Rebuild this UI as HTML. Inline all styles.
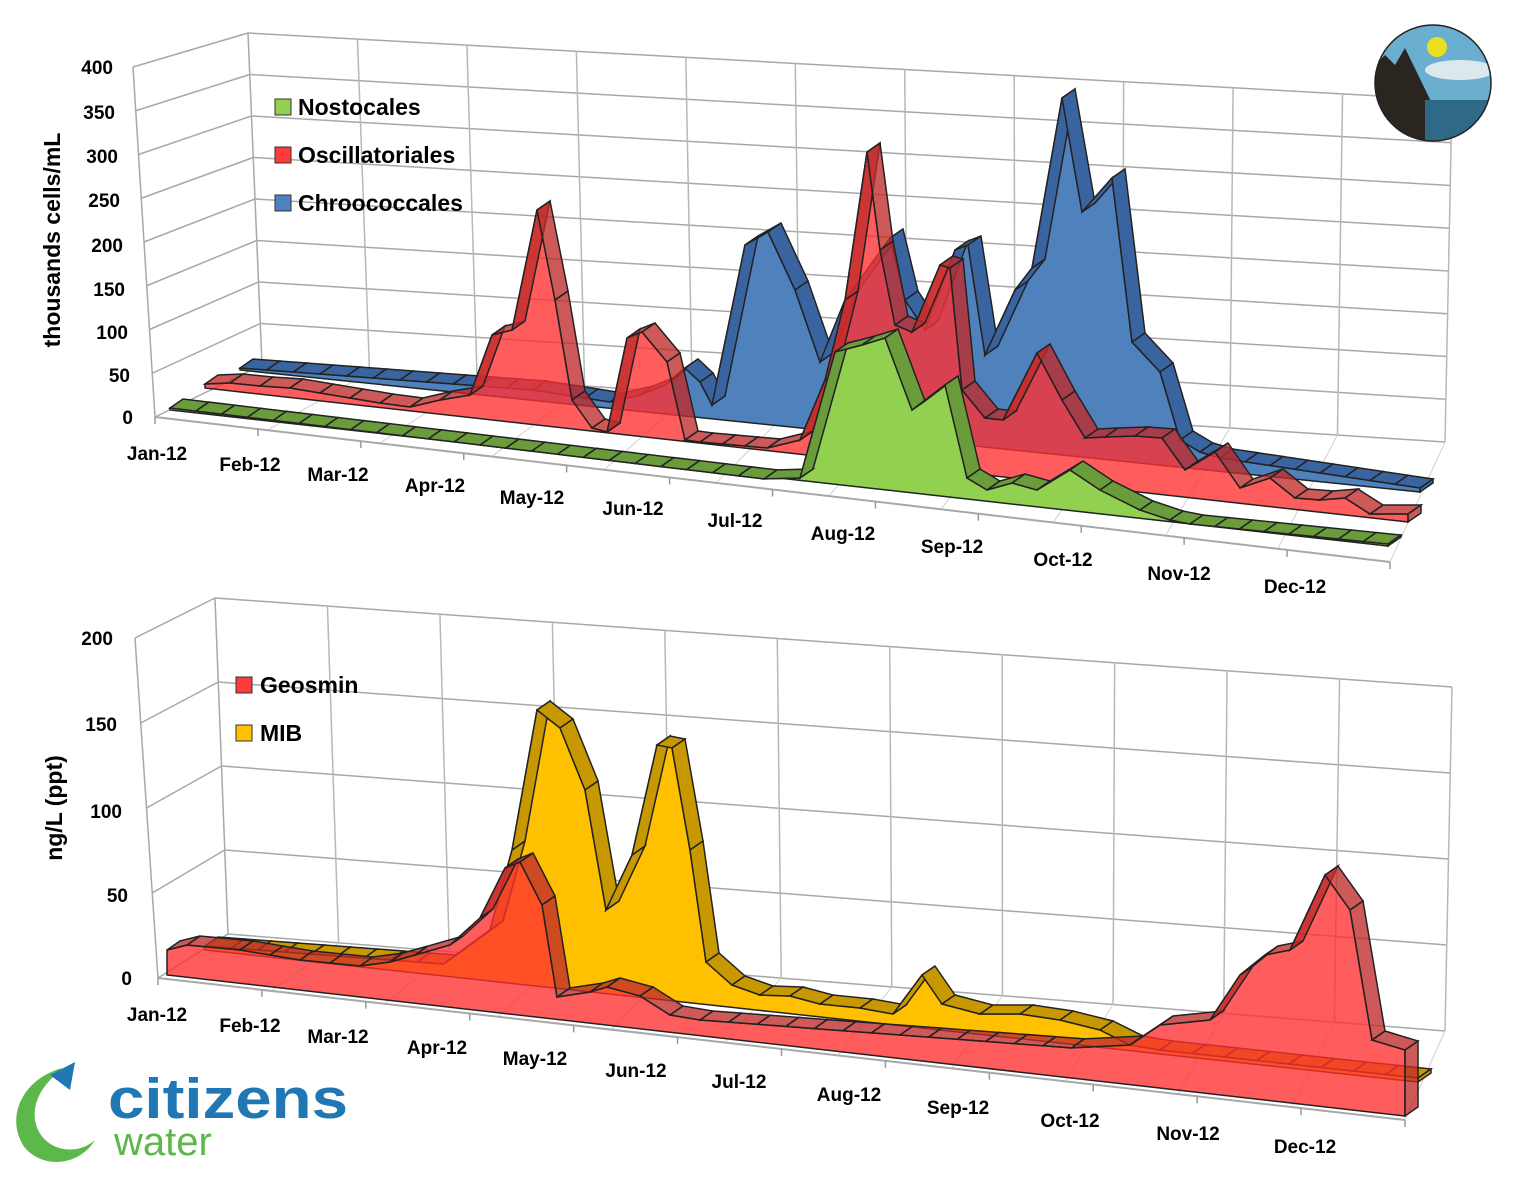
<!DOCTYPE html>
<html><head><meta charset="utf-8"><style>
body{margin:0;background:#fff;}
svg text{font-family:"Liberation Sans",sans-serif;font-weight:bold;}
</style></head><body>
<svg id="s" width="1513" height="1177" xmlns="http://www.w3.org/2000/svg">
<g id="top"></g>
<g id="bot"></g>
<g font-size="19" fill="#000" text-anchor="end">
<text x="113" y="74">400</text><text x="115" y="119">350</text><text x="118" y="163">300</text><text x="120" y="207">250</text><text x="123" y="252">200</text><text x="125" y="296">150</text><text x="128" y="339">100</text><text x="130" y="382">50</text><text x="133" y="424">0</text>
</g>
<text transform="translate(60,240) rotate(-90)" font-size="23" text-anchor="middle">thousands cells/mL</text>
<g font-size="19" text-anchor="middle">
<text x="157" y="460">Jan-12</text><text x="250" y="471">Feb-12</text><text x="338" y="481">Mar-12</text><text x="435" y="492">Apr-12</text><text x="532" y="504">May-12</text><text x="633" y="515">Jun-12</text><text x="735" y="527">Jul-12</text><text x="843" y="540">Aug-12</text><text x="952" y="553">Sep-12</text><text x="1063" y="566">Oct-12</text><text x="1179" y="580">Nov-12</text><text x="1295" y="593">Dec-12</text>
</g>
<g font-size="23">
<rect x="275" y="99" width="16" height="16" fill="#92d050" stroke="#333"/><text x="298" y="115">Nostocales</text>
<rect x="275" y="147" width="16" height="16" fill="#ff3b3b" stroke="#333"/><text x="298" y="163">Oscillatoriales</text>
<rect x="275" y="195" width="16" height="16" fill="#4f81bd" stroke="#333"/><text x="298" y="211">Chroococcales</text>
</g>
<g font-size="19" text-anchor="end">
<text x="113" y="645">200</text><text x="117" y="731">150</text><text x="122" y="818">100</text><text x="128" y="902">50</text><text x="132" y="985">0</text>
</g>
<text transform="translate(62,808) rotate(-90)" font-size="23" text-anchor="middle">ng/L (ppt)</text>
<g font-size="19" text-anchor="middle">
<text x="157" y="1021">Jan-12</text><text x="250" y="1032">Feb-12</text><text x="338" y="1043">Mar-12</text><text x="437" y="1054">Apr-12</text><text x="535" y="1065">May-12</text><text x="636" y="1077">Jun-12</text><text x="739" y="1088">Jul-12</text><text x="849" y="1101">Aug-12</text><text x="958" y="1114">Sep-12</text><text x="1070" y="1127">Oct-12</text><text x="1188" y="1140">Nov-12</text><text x="1305" y="1153">Dec-12</text>
</g>
<g font-size="23">
<rect x="236" y="677" width="16" height="16" fill="#ff3b3b" stroke="#333"/><text x="260" y="693">Geosmin</text>
<rect x="236" y="725" width="16" height="16" fill="#ffc000" stroke="#333"/><text x="260" y="741">MIB</text>
</g>
<defs><clipPath id="cc"><circle cx="1433" cy="83" r="58"/></clipPath></defs>
<g clip-path="url(#cc)">
<rect x="1370" y="20" width="130" height="130" fill="#6aaed0"/>
<ellipse cx="1460" cy="70" rx="35" ry="10" fill="#dde8ee"/>
<circle cx="1437" cy="47" r="10" fill="#e8e020"/>
<polygon points="1370,70 1385,55 1395,65 1405,48 1440,120 1445,150 1370,150" fill="#2b2520"/>
<rect x="1425" y="100" width="80" height="50" fill="#2e6a88"/>
</g>
<circle cx="1433" cy="83" r="58" fill="none" stroke="#222" stroke-width="1.5"/>
<path d="M62,1068 C20,1080 5,1120 25,1148 C45,1170 80,1165 95,1140 C75,1158 40,1150 35,1120 C32,1095 50,1080 62,1068 Z" fill="#5cb84a"/>
<path d="M50,1075 L75,1062 L70,1090 Z" fill="#1f78b4"/>
<text x="108" y="1118" font-size="57" fill="#1f78b4" textLength="240" lengthAdjust="spacingAndGlyphs">citizens</text>
<text x="114" y="1155" font-size="40" fill="#5cb84a" style="font-weight:normal">water</text>
</svg>
<script>
const NS="http://www.w3.org/2000/svg";
function el(p,tag,a){const e=document.createElementNS(NS,tag);for(const k in a)e.setAttribute(k,a[k]);p.appendChild(e);return e;}
function L(p,x1,y1,x2,y2,c,w){el(p,'line',{x1,y1,x2,y2,stroke:c||'#b4b4b4','stroke-width':w||1.5});}
function walls(g,o){
 for(let i=0;i<o.n;i++){const f=i/(o.n-1);
  const yl=o.bl[1]+(o.tl[1]-o.bl[1])*f, yr=o.br[1]+(o.tr[1]-o.br[1])*f;
  const xl=o.bl[0]+(o.tl[0]-o.bl[0])*f, xr=o.br[0]+(o.tr[0]-o.br[0])*f;
  L(g,xl,yl,xr,yr,'#a8a8a8');
  const fy=o.fb[1]+(o.ft[1]-o.fb[1])*f, fx=o.fb[0]+(o.ft[0]-o.fb[0])*f;
  L(g,fx,fy,xl,yl,'#a8a8a8');
 }
 L(g,o.fb[0],o.fb[1],o.ft[0],o.ft[1],'#a8a8a8');
 L(g,o.tl[0],o.tl[1],o.bl[0],o.bl[1],'#a8a8a8');
 for(let j=1;j<=11;j++){const f=j/11;
  const x1=o.tl[0]+(o.tr[0]-o.tl[0])*f,y1=o.tl[1]+(o.tr[1]-o.tl[1])*f;
  const x2=o.bl[0]+(o.br[0]-o.bl[0])*f,y2=o.bl[1]+(o.br[1]-o.bl[1])*f;
  L(g,x1,y1,x2,y2,'#b8b8b8');
  const x3=o.fb[0]+(o.fe[0]-o.fb[0])*f,y3=o.fb[1]+(o.fe[1]-o.fb[1])*f;
  L(g,x3,y3,x2,y2,'#d0d0d0',1);
 }
 L(g,o.fb[0],o.fb[1],o.fe[0],o.fe[1],'#a8a8a8',2);
 for(let j=0;j<=12;j++){const f=j/12;const x=o.fb[0]+(o.fe[0]-o.fb[0])*f,y=o.fb[1]+(o.fe[1]-o.fb[1])*f;L(g,x,y,x,y+7,'#999',1.5);}
}
function ribbon(g,pts,b0,b1,face,top,op,off){
 const base=x=>b0[1]+(b1[1]-b0[1])*(x-b0[0])/(b1[0]-b0[0]);
 const first=pts[0],last=pts[pts.length-1];
 let d=`M${first[0]},${base(first[0])}`;pts.forEach(p=>d+=` L${p[0]},${p[1]}`);d+=` L${last[0]},${base(last[0])} Z`;
 el(g,'path',{d,fill:face,'fill-opacity':op,stroke:'#222','stroke-width':1.5});
 for(let i=0;i<pts.length-1;i++){const a=pts[i],b=pts[i+1];
  el(g,'polygon',{points:`${a[0]},${a[1]} ${b[0]},${b[1]} ${b[0]+off[0]},${b[1]+off[1]} ${a[0]+off[0]},${a[1]+off[1]}`,fill:top,'fill-opacity':op,stroke:'#222','stroke-width':1.5});}
 el(g,'polygon',{points:`${last[0]},${last[1]} ${last[0]+off[0]},${last[1]+off[1]} ${last[0]+off[0]},${base(last[0])+off[1]} ${last[0]},${base(last[0])}`,fill:top,'fill-opacity':op,stroke:'#222','stroke-width':1.5});
}
const T=document.getElementById('top'),B=document.getElementById('bot');
walls(T,{n:9,tl:[248,33],tr:[1452,100],bl:[262,365],br:[1445,442],ft:[133,67],fb:[155,417],fe:[1390,562]});
walls(B,{n:5,tl:[215,598],tr:[1452,687],bl:[228,934],br:[1445,1031],ft:[135,638],fb:[158,978],fe:[1405,1120]});
function seg(x0,x1,y0,y1,n){const r=[];for(let i=0;i<n;i++){const f=i/n;r.push([x0+(x1-x0)*f,y0+(y1-y0)*f]);}return r;}
const off=[13,-9];
let blue=[...seg(240,560,368,392,12),[585,398],[610,402],[640,395],[665,385],[685,368],[700,382],[712,405],[745,245],[768,232],[795,290],[820,362],[845,300],[890,238],[905,300],[925,330],[955,250],[968,245],[985,355],[1015,290],[1032,268],[1062,98],[1082,212],[1112,178],[1132,342],[1160,372],[1180,440],[1200,452],...seg(1220,1420,458,488,8),[1420,488]];
ribbon(T,blue,[240,370],[1420,492],'#4f81bd','#3a64a0',1,off);
let red=[[205,384],[230,383],[260,386],[290,388],[320,393],[350,398],[380,403],[410,407],[440,400],[470,395],[492,335],[512,330],[537,210],[555,300],[572,400],[592,428],[607,432],[627,338],[642,332],[667,362],[685,440],...seg(700,790,442,450,4),[800,440],[825,380],[845,300],[867,152],[880,250],[895,325],[912,332],[940,265],[950,268],[962,390],[985,418],[1003,420],[1037,353],[1062,400],[1085,438],[1105,437],[1135,436],[1162,438],[1185,470],[1215,452],[1240,488],[1270,478],[1295,498],[1320,500],[1345,498],[1370,514],[1408,514]];
ribbon(T,red,[205,388],[1408,522],'#ff3030','#c02a2a',0.78,off);
let green=[...seg(170,790,408,482,24),[800,478],[835,352],[862,345],[885,338],[912,410],[945,385],[967,478],[987,490],[1012,483],[1037,490],[1070,470],[1100,490],[1140,510],[1170,520],...seg(1190,1388,524,544,8),[1388,544]];
ribbon(T,green,[170,410],[1388,546],'#92d050','#6a9c3c',1,off);
let mib=[...seg(205,470,946,966,10),[490,930],[512,850],[537,710],[560,728],[585,790],[606,910],[632,855],[657,745],[672,748],[690,850],[706,962],[732,985],[760,995],[790,996],[820,1004],[860,1008],[893,1014],[922,975],[942,1004],[980,1014],[1020,1014],[1060,1020],[1100,1030],[1130,1045],...seg(1160,1418,1050,1078,8),[1418,1078]];
ribbon(B,mib,[205,950],[1418,1082],'#ffc000','#c89800',1,off);
let geo=[[167,950],[187,945],[240,950],[270,955],[300,960],[330,963],[360,966],[390,962],[415,955],[450,945],[480,918],[505,868],[520,862],[542,905],[557,997],[590,992],[607,987],[640,996],[670,1015],...seg(700,1100,1020,1050,14),[1130,1045],[1160,1025],[1210,1020],[1240,975],[1265,955],[1290,950],[1325,875],[1350,910],[1372,1040],[1405,1050]];
ribbon(B,geo,[167,975],[1405,1116],'#ff3030','#c02a2a',0.78,off);
</script>
</body></html>
